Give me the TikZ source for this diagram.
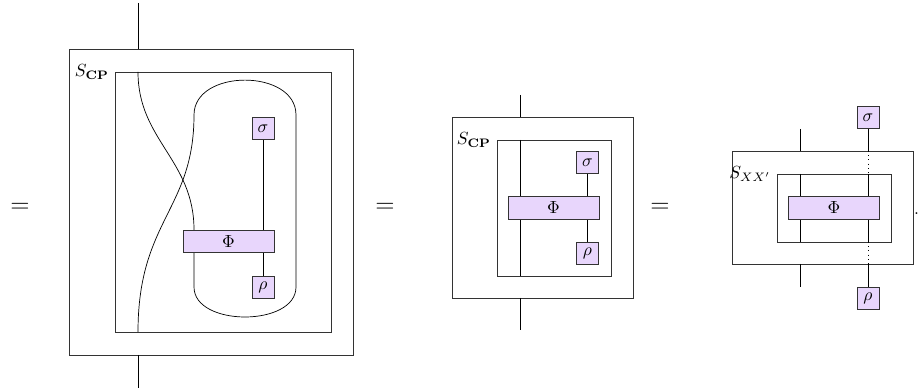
\documentclass[tikz,border=0pt]{standalone}
\usetikzlibrary{positioning}
\definecolor{boxfill}{RGB}{232,214,252}
\tikzset{
  gate/.style={draw=black!80, fill=boxfill, minimum size=0.44cm, inner sep=0pt},
  widegate/.style={gate, minimum width=1.82cm, minimum height=0.45cm},
  frame/.style={draw=black!80},
  eqsign/.style={font=\Large, inner sep=0pt},
}
\begin{document}
\begin{tikzpicture}
\useasboundingbox (0,0) rectangle (18.36,7.8);
% first diagram
\node[eqsign] (eq1) at (0.40,3.64) {$=$};
\draw[frame] (1.38,0.70) rectangle (7.06,6.82);
\draw[frame] (2.30,1.16) rectangle (6.62,6.36);
\node[anchor=east] (lab1) at (2.30,6.36) {$S_{\mathbf{CP}}$};
\node[widegate] (phi1) at (4.57,2.97) {$\Phi$};
\node[gate] (sig1) at (5.26,5.23) {$\sigma$};
\node[gate] (rho1) at (5.26,2.05) {$\rho$};
\coordinate (top1) at (2.76,7.74); \coordinate (otop1) at (2.76,6.82);
\coordinate (obot1) at (2.76,0.70); \coordinate (bot1) at (2.76,0.04);
\coordinate (itop1) at (2.76,6.36); \coordinate (ibot1) at (2.76,1.16);
\coordinate (loopx1) at (3.88,0);
\draw (top1) -- (otop1);
\draw (obot1) -- (bot1);
\draw (sig1.south) -- (sig1.south |- phi1.north);
\draw (rho1.north) -- (rho1.north |- phi1.south);
\draw (itop1) .. controls (2.76,5.0) and (3.88,4.6) .. (loopx1 |- phi1.north);
\draw (loopx1 |- phi1.south) -- (3.88,2.06) .. controls (3.88,1.26) and (5.92,1.26) .. (5.92,2.06)
  -- (5.92,5.5) .. controls (5.92,6.43) and (3.88,6.43) .. (3.88,5.5)
  .. controls (3.88,3.6) and (2.76,3.4) .. (ibot1);
% second diagram
\node[eqsign] (eq2) at (7.70,3.64) {$=$};
\draw[frame] (9.04,1.84) rectangle (12.66,5.46);
\draw[frame] (9.94,2.28) rectangle (12.22,5.00);
\node[anchor=east] (lab2) at (9.94,5.00) {$S_{\mathbf{CP}}$};
\node[widegate] (phi2) at (11.07,3.64) {$\Phi$};
\node[gate] (sig2) at (11.75,4.55) {$\sigma$};
\node[gate] (rho2) at (11.75,2.73) {$\rho$};
\coordinate (top2) at (10.40,5.90); \coordinate (otop2) at (10.40,5.46);
\coordinate (obot2) at (10.40,1.84); \coordinate (bot2) at (10.40,1.20);
\coordinate (itop2) at (10.40,5.00); \coordinate (ibot2) at (10.40,2.28);
\draw (top2) -- (otop2);
\draw (obot2) -- (bot2);
\draw (itop2) -- (itop2 |- phi2.north);
\draw (itop2 |- phi2.south) -- (ibot2);
\draw (sig2.south) -- (sig2.south |- phi2.north);
\draw (rho2.north) -- (rho2.north |- phi2.south);
% third diagram
\node[eqsign] (eq3) at (13.20,3.64) {$=$};
\draw[frame] (14.64,2.52) rectangle (18.26,4.78);
\draw[frame] (15.54,2.96) rectangle (17.82,4.32);
\node[anchor=east] (lab3) at (15.54,4.32) {$S_{XX'}$};
\node[widegate] (phi3) at (16.68,3.64) {$\Phi$};
\node[gate] (sig3) at (17.36,5.45) {$\sigma$};
\node[gate] (rho3) at (17.36,1.83) {$\rho$};
\coordinate (top3) at (16.00,5.22); \coordinate (otop3) at (16.00,4.78);
\coordinate (obot3) at (16.00,2.52); \coordinate (bot3) at (16.00,2.06);
\coordinate (itop3) at (16.00,4.32); \coordinate (ibot3) at (16.00,2.96);
\draw (top3) -- (otop3);
\draw (obot3) -- (bot3);
\draw (itop3) -- (itop3 |- phi3.north);
\draw (itop3 |- phi3.south) -- (ibot3);
\draw (sig3.south) -- (sig3.south |- otop3);
\draw[dotted] (sig3.south |- otop3) -- (sig3.south |- itop3);
\draw (sig3.south |- itop3) -- (sig3.south |- phi3.north);
\draw (rho3.north |- phi3.south) -- (rho3.north |- ibot3);
\draw[dotted] (rho3.north |- ibot3) -- (rho3.north |- obot3);
\draw (rho3.north |- obot3) -- (rho3.north);
\node[inner sep=0pt, anchor=base] (stop) at (18.33,3.50) {.};
\end{tikzpicture}
\end{document}
